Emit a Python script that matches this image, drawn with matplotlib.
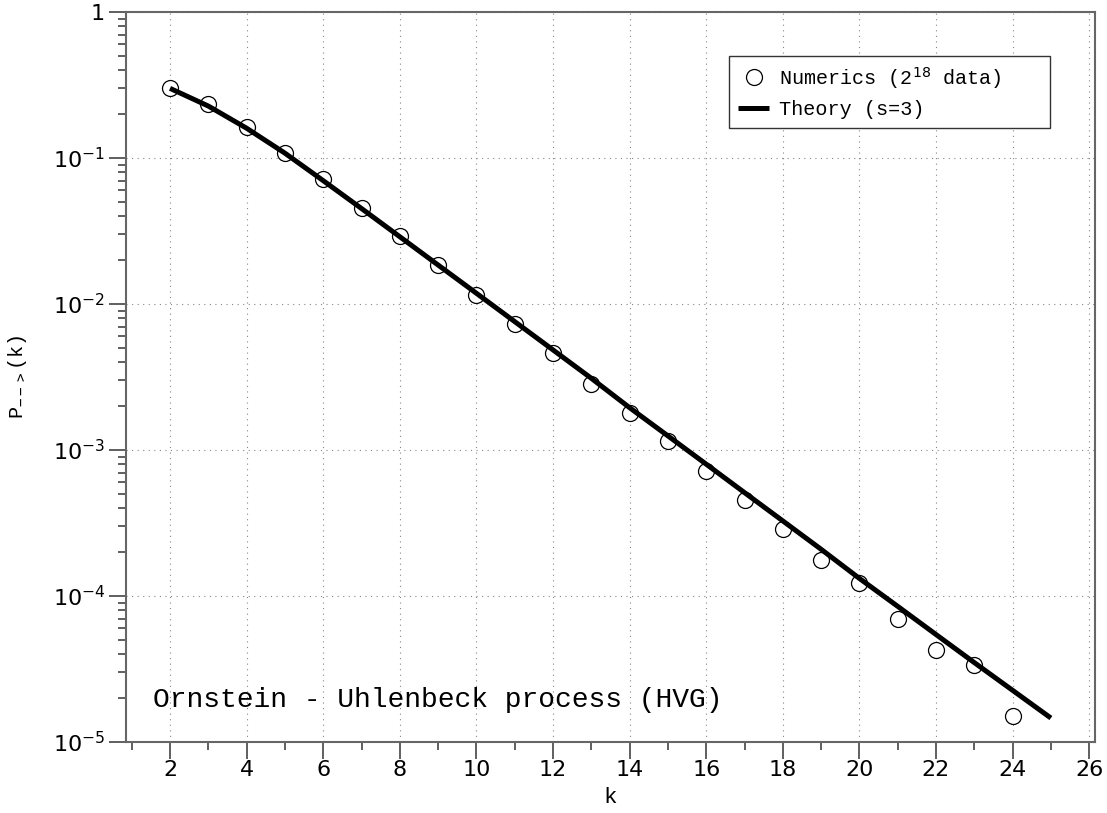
import numpy as np
import matplotlib
matplotlib.use('Agg')
import matplotlib.pyplot as plt
from matplotlib.ticker import FixedLocator, FuncFormatter, LogLocator, NullFormatter

# Numerics (2^18 data)
k_num = [2, 3, 4, 5, 6, 7, 8, 9, 10, 11, 12, 13, 14, 15, 16, 17, 18, 19, 20, 21, 22, 23, 24]
p_num = [0.302, 0.234, 0.164, 0.109, 0.0715, 0.0452, 0.0292, 0.0185, 0.01153, 0.0073,
         0.00462, 0.00285, 0.0018, 0.00115, 0.00072, 0.000456, 0.000286, 0.000177,
         0.000123, 0.0000695, 0.0000427, 0.0000336, 0.0000151]

# Theory (s=3)
k_th = [2, 3, 4, 5, 6, 7, 8, 9, 10, 11, 12, 13, 14, 15, 16, 17, 18, 19, 20, 21, 22, 23, 24, 25]
p_th = [0.300, 0.227, 0.160, 0.108, 0.0700, 0.0451, 0.0289, 0.0185, 0.01185, 0.00758,
        0.00485, 0.00310, 0.00195, 0.00125, 0.00080, 0.000511, 0.000327, 0.000209,
        0.000132, 0.0000850, 0.0000545, 0.0000350, 0.0000226, 0.0000146]

x_major = [2, 4, 6, 8, 10, 12, 14, 16, 18, 20, 22, 24, 26]
x_minor = [1, 3, 5, 7, 9, 11, 13, 15, 17, 19, 21, 23, 25]

mono = 'Liberation Mono'
plt.rcParams['mathtext.fontset'] = 'dejavusans'

fig = plt.figure(figsize=(11.07, 8.13), dpi=100)
ax = fig.add_axes([0.1138, 0.0873, 0.8753, 0.8979])

ax.plot(k_num, p_num, 'o', mfc='white', mec='black', mew=0.9, ms=11.5,
        label='Numerics (2$^{18}$ data)    ', zorder=3)
ax.plot(k_th, p_th, '-', color='black', lw=3.6, solid_capstyle='butt',
        label='Theory (s=3)', zorder=4)

ax.set_yscale('log')
ax.set_xlim(0.85, 26.15)
ax.set_ylim(1e-5, 1)

ax.xaxis.set_major_locator(FixedLocator(x_major))
ax.xaxis.set_minor_locator(FixedLocator(x_minor))
ax.yaxis.set_major_locator(LogLocator(base=10, numticks=10))
ax.yaxis.set_minor_locator(LogLocator(base=10, subs=np.arange(2, 10), numticks=20))
ax.yaxis.set_minor_formatter(NullFormatter())


def yfmt(v, pos):
    e = int(round(np.log10(v)))
    if e == 0:
        return '1'
    return r'$10^{%d}$' % e


ax.yaxis.set_major_formatter(FuncFormatter(yfmt))

ax.tick_params(which='major', direction='out', length=12, width=1.2, color='#444444',
               labelsize=16)
ax.tick_params(axis='x', which='major', pad=1)
ax.tick_params(axis='y', which='major', pad=3)
ax.tick_params(which='minor', direction='out', length=6, width=1.2, color='#444444')
ax.tick_params(top=False, right=False)

for s in ax.spines.values():
    s.set_color('#666666')
    s.set_linewidth(1.5)

ax.grid(True, which='major', color='#888888', lw=0.8, linestyle=(0, (1, 4)))
ax.set_axisbelow(True)

ax.set_xlabel('k', family=mono, fontsize=16)
ax.set_ylabel(r'P$_{\mathtt{-->}}$(k)', family=mono, fontsize=14.5)
ax.xaxis.set_label_coords(0.4995, -0.062)
ax.yaxis.set_label_coords(-0.100, 0.5)

ax.text(0.028, 0.048, 'Ornstein - Uhlenbeck process (HVG)', transform=ax.transAxes,
        family=mono, fontsize=20.2, va='baseline', ha='left')

leg = ax.legend(loc='upper right', bbox_to_anchor=(0.9536, 0.9401), borderaxespad=0,
                prop={'family': mono, 'size': 14.5}, fancybox=False, framealpha=1,
                edgecolor='#333333', handlelength=1.5, handletextpad=0.5,
                labelspacing=0.45, borderpad=0.45)
leg.get_frame().set_linewidth(1.0)

fig.savefig('out.png', dpi=100)
